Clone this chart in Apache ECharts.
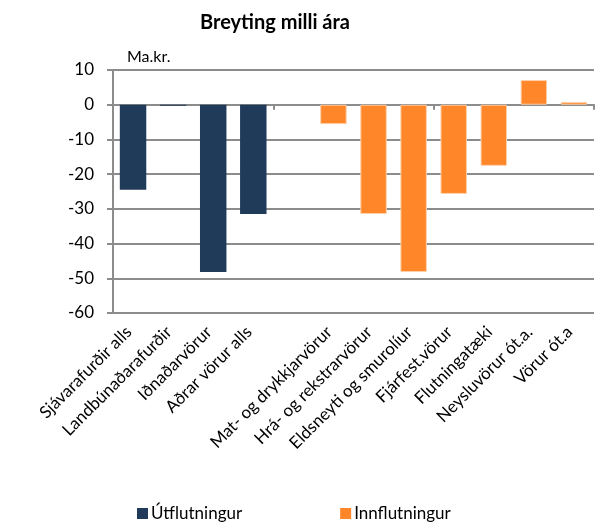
<!DOCTYPE html>
<html>
<head>
<meta charset="utf-8">
<style>
    html, body { margin: 0; padding: 0; background: #fff; }
    #chart { width: 595px; height: 522px; }
</style>
</head>
<body>
<div id="chart"></div>
<script src="https://cdn.jsdelivr.net/npm/echarts@6/dist/echarts.min.js"></script>
<script>
    // flokkar og gildi (Ma.kr.)
    var categories = ['Sjávarafurðir alls', 'Landbúnaðarafurðir', 'Iðnaðarvörur', 'Aðrar vörur alls', '',
        'Mat- og drykkjarvörur', 'Hrá- og rekstrarvörur', 'Eldsneyti og smurolíur', 'Fjárfest.vörur',
        'Flutningatæki', 'Neysluvörur ót.a.', 'Vörur ót.a'];
    var utflutningur = [-24.5, -0.3, -48.2, -31.5, null, null, null, null, null, null, null, null];
    var innflutningur = [null, null, null, null, null, -5.6, -31.5, -48.2, -25.7, -17.6, 7.1, 0.8];
    var yTicks = [10, 0, -10, -20, -30, -40, -50, -60];

    var font = 'Lato';
    var chart = echarts.init(document.getElementById('chart'));

    var option = {
        animation: false,
        textStyle: { fontFamily: font },
        title: [
            {
                text: 'Breyting milli ára',
                left: 195, top: 8,
                textStyle: { fontFamily: font, fontSize: 20, fontWeight: 'bold', color: '#000' }
            },
            {
                text: 'Ma.kr.',
                left: 122, top: 44,
                textStyle: { fontFamily: font, fontSize: 16, fontWeight: 'normal', color: '#000' }
            }
        ],
        legend: {
            left: 132, top: 500,
            itemWidth: 11, itemHeight: 11, itemGap: 98,
            icon: 'rect',
            itemStyle: { borderWidth: 0 },
            textStyle: { fontFamily: font, fontSize: 17, color: '#000', padding: [0, 0, 0, -2] },
            data: ['Útflutningur', 'Innflutningur']
        },
        grid: { left: 113, right: 1, top: 70, bottom: 209 },
        xAxis: [
            {
                type: 'category',
                data: categories,
                axisLine: { onZero: true, lineStyle: { color: '#8c8c8c', width: 2 } },
                axisTick: { show: true, length: 5, lineStyle: { color: '#8c8c8c', width: 2 } },
                axisLabel: { show: false },
                splitLine: { show: false }
            },
            {
                type: 'category',
                data: categories,
                position: 'bottom',
                axisLine: { show: false, onZero: false },
                axisTick: { show: false },
                axisLabel: { rotate: 45, fontSize: 17, color: '#000', margin: 12, interval: 0, padding: [0, 6, 0, 0] },
                splitLine: { show: false }
            }
        ],
        yAxis: {
            type: 'value',
            min: yTicks[yTicks.length - 1], max: yTicks[0], interval: 10,
            axisLine: { show: true, lineStyle: { color: '#8c8c8c', width: 2 } },
            axisTick: { show: true, length: 6, lineStyle: { color: '#8c8c8c', width: 2 } },
            axisLabel: { fontSize: 17, color: '#000', margin: 19 },
            splitLine: { lineStyle: { color: '#8c8c8c', width: 2 } }
        },
        series: [
            {
                name: 'Útflutningur',
                type: 'bar',
                stack: 'a',
                xAxisIndex: 0,
                barWidth: '66%',
                data: utflutningur,
                itemStyle: { color: '#203a5a' }
            },
            {
                name: 'Innflutningur',
                type: 'bar',
                stack: 'a',
                xAxisIndex: 0,
                barWidth: '66%',
                data: innflutningur,
                itemStyle: { color: '#ff8629', borderColor: '#ffd0a8', borderWidth: 1 }
            }
        ]
    };

    chart.setOption(option);
</script>
</body>
</html>
